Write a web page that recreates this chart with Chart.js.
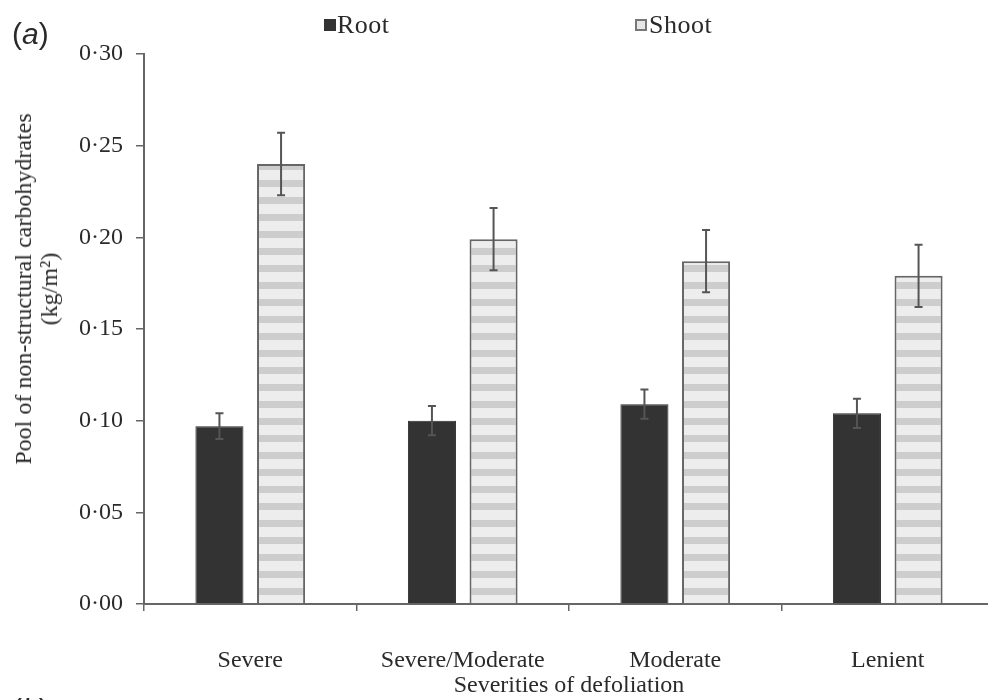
<!DOCTYPE html>
<html>
<head>
<meta charset="utf-8">
<script src="https://cdn.jsdelivr.net/npm/chart.js@4"></script>
<style>
    html, body { margin: 0; padding: 0; background: #fff; overflow: hidden; width: 988px; height: 700px; }
    #wrap { position: relative; width: 1000px; height: 700px; }
    .lab { position: absolute; font-family: 'Liberation Serif', serif; font-size: 26px; letter-spacing: 0.5px; color: #2a2a2a; line-height: 1; white-space: nowrap; }
    .box { position: absolute; width: 12px; height: 12px; box-sizing: border-box; }
    .panel { position: absolute; font-family: 'Liberation Sans', Arial, sans-serif; font-size: 30px; color: #2a2a2a; line-height: 1; }
    #ytitle { position: absolute; left: 36px; top: 289px; transform: translate(-50%, -50%) rotate(-90deg);
              font-family: 'Liberation Serif', serif; font-size: 24px; line-height: 26px; color: #2a2a2a;
              text-align: center; white-space: nowrap; }
</style>
</head>
<body>
<div id="wrap">
    <canvas id="chartPool" width="1000" height="700"></canvas>
    <div class="panel" style="left:12px; top:19px;">(<i>a</i>)</div>
    <div class="panel" style="left:12px; top:695px;">(<i>b</i>)</div>
    <div class="box" style="left:324px; top:19px; background:#333;"></div>
    <div class="lab" style="left:337px; top:12px;">Root</div>
    <div class="box" style="left:635px; top:19px; background:#e6e6e6; border:2px solid #777;"></div>
    <div class="lab" style="left:649px; top:12px;">Shoot</div>
    <div id="ytitle">Pool of non-structural carbohydrates<br>(kg/m²)</div>
</div>
<script>
// data
var categories = ['Severe', 'Severe/Moderate', 'Moderate', 'Lenient'];
var rootValues = [0.097, 0.100, 0.109, 0.104];
var shootValues = [0.240, 0.199, 0.187, 0.179];
var rootErrors = [0.007, 0.008, 0.008, 0.008];
var shootErrors = [0.017, 0.017, 0.017, 0.017];
var yTicks = [0, 0.05, 0.10, 0.15, 0.20, 0.25, 0.30];

// horizontal stripes for the shoot bars
function stripes() {
    var c = document.createElement('canvas');
    c.width = 4;
    c.height = 17;
    var g = c.getContext('2d');
    g.fillStyle = '#ededed';
    g.fillRect(0, 0, 4, 17);
    g.fillStyle = '#cdcdcd';
    g.fillRect(0, 10, 4, 7);
    return g.createPattern(c, 'repeat');
}

var errorBars = {
    id: 'errorBars',
    afterDatasetsDraw: function (chart) {
        var ctx = chart.ctx;
        var y = chart.scales.y;
        var errs = [rootErrors, shootErrors];
        ctx.save();
        ctx.strokeStyle = '#555';
        ctx.lineWidth = 2;
        chart.data.datasets.forEach(function (ds, i) {
            var meta = chart.getDatasetMeta(i);
            meta.data.forEach(function (bar, j) {
                var v = ds.data[j];
                var top = y.getPixelForValue(v + errs[i][j]);
                var bot = y.getPixelForValue(v - errs[i][j]);
                ctx.beginPath();
                ctx.moveTo(bar.x, top);
                ctx.lineTo(bar.x, bot);
                ctx.moveTo(bar.x - 4, top);
                ctx.lineTo(bar.x + 4, top);
                ctx.moveTo(bar.x - 4, bot);
                ctx.lineTo(bar.x + 4, bot);
                ctx.stroke();
            });
        });
        ctx.restore();
    }
};

Chart.defaults.font.family = "'Liberation Serif', 'Times New Roman', serif";
Chart.defaults.font.size = 24;
Chart.defaults.color = '#2a2a2a';

var ctx = document.getElementById('chartPool').getContext('2d');
var chart = new Chart(ctx, {
    type: 'bar',
    data: {
        labels: categories,
        datasets: [{
            label: 'Root',
            data: rootValues,
            backgroundColor: '#333333',
            borderColor: '#2a2a2a',
            borderWidth: 1
        }, {
            label: 'Shoot',
            data: shootValues,
            backgroundColor: stripes(),
            borderColor: '#666',
            borderWidth: 2
        }]
    },
    options: {
        responsive: false,
        animation: false,
        categoryPercentage: 0.58,
        barPercentage: 0.78,
        layout: { padding: { left: 0, right: 6, top: 54, bottom: 0 } },
        plugins: {
            legend: { display: false },
            tooltip: { enabled: false }
        },
        scales: {
            x: {
                afterFit: function (s) { s.height = 96; },
                grid: { drawOnChartArea: false, color: '#666', lineWidth: 1.5, tickLength: 7 },
                border: { color: '#666', width: 2 },
                ticks: { padding: 35, color: '#2a2a2a' },
                title: {
                    display: true,
                    text: 'Severities of defoliation',
                    color: '#2a2a2a',
                    padding: { top: 0, bottom: 0 }
                }
            },
            y: {
                min: 0,
                max: 0.30,
                afterFit: function (s) { s.width = 144; },
                afterBuildTicks: function (s) {
                    s.ticks = yTicks.map(function (v) { return { value: v }; });
                },
                grid: { drawOnChartArea: false, color: '#666', lineWidth: 1.5, tickLength: 8 },
                border: { color: '#666', width: 2 },
                ticks: {
                    padding: 13,
                    color: '#2a2a2a',
                    callback: function (v) { return Number(v).toFixed(2).replace('.', '·'); }
                }
            }
        }
    },
    plugins: [errorBars]
});
</script>
</body>
</html>
